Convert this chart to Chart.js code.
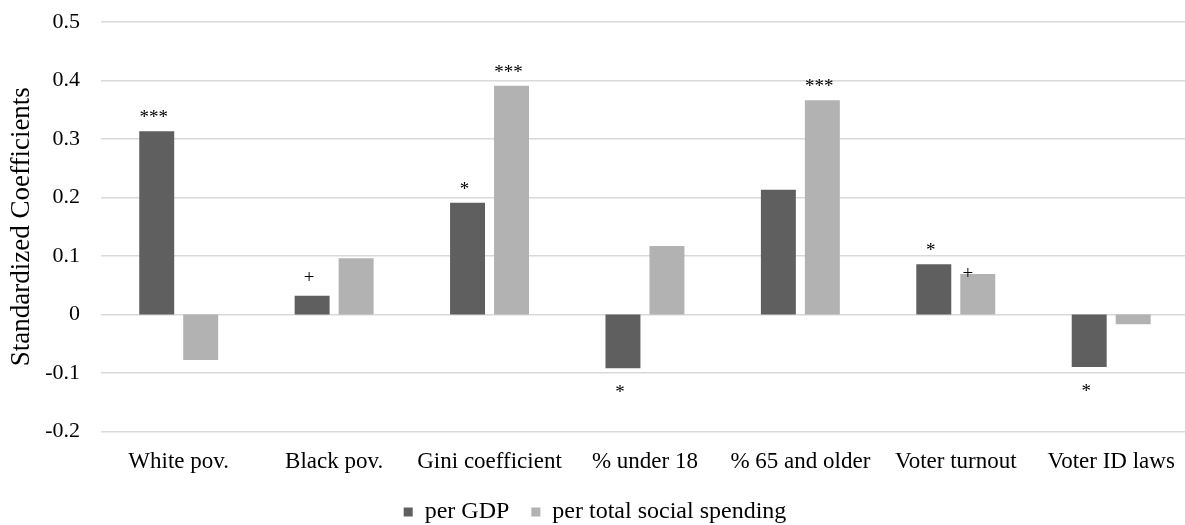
<!DOCTYPE html>
<html>
<head>
<meta charset="utf-8">
<script src="https://cdn.jsdelivr.net/npm/chart.js@4.4.1/dist/chart.umd.min.js"></script>
<style>
  html, body { margin: 0; padding: 0; background: #ffffff; overflow: hidden; }
  #wrap { position: relative; width: 1192px; height: 525px; }
</style>
</head>
<body>
<div id="wrap"><canvas id="c"></canvas></div>
<script>
// ---- data ----
const categories = ['White pov.', 'Black pov.', 'Gini coefficient', '% under 18', '% 65 and older', 'Voter turnout', 'Voter ID laws'];
const seriesNames = ['per GDP', 'per total social spending'];
const perGDP = [0.313, 0.032, 0.191, -0.092, 0.213, 0.086, -0.090];
const perSocial = [-0.078, 0.096, 0.391, 0.117, 0.366, 0.069, -0.017];
const sigGDP = ['***', '+', '*', '*', '', '*', '*'];
const sigSocial = ['', '', '***', '', '***', '+', ''];
const yTickLabels = ['-0.2', '-0.1', '0', '0.1', '0.2', '0.3', '0.4', '0.5'];

const FONT = "'Liberation Serif', 'Times New Roman', serif";
const TEXT = '#000000';

// significance markers drawn from the bar elements
const sigPlugin = {
  id: 'sigMarks',
  afterDatasetsDraw(chart) {
    const ctx = chart.ctx;
    const sets = [sigGDP, sigSocial];
    const size = 19;
    ctx.save();
    ctx.font = size + 'px ' + FONT;
    ctx.fillStyle = TEXT;
    ctx.textAlign = 'center';
    ctx.textBaseline = 'alphabetic';
    sets.forEach((marks, di) => {
      const meta = chart.getDatasetMeta(di);
      meta.data.forEach((el, i) => {
        const m = marks[i];
        if (!m) return;
        const v = chart.data.datasets[di].data[i];
        const glyphLift = (m.indexOf('*') >= 0 ? 0.47 : 0.25) * size;
        let cx = el.x - 3;
        let cy;
        if (v >= 0) cy = el.y - 17; else cy = el.y + 21;
        // the "+" beside the light turnout bar sits on its top-left corner
        if (di === 1 && i === 5) { cx = el.x - 10; cy = el.y; }
        ctx.fillText(m, cx, cy + glyphLift);
      });
    });
    ctx.restore();
  }
};

new Chart(document.getElementById('c'), {
  type: 'bar',
  data: {
    labels: categories,
    datasets: [
      { label: seriesNames[0], data: perGDP, backgroundColor: '#5f5f5f', borderWidth: 0,
        categoryPercentage: 0.566, barPercentage: 0.795 },
      { label: seriesNames[1], data: perSocial, backgroundColor: '#b2b2b2', borderWidth: 0,
        categoryPercentage: 0.566, barPercentage: 0.795 }
    ]
  },
  options: {
    responsive: true,
    maintainAspectRatio: false,
    animation: false,
    events: [],
    layout: { padding: { top: 0, right: 2, left: 0, bottom: -9 } },
    plugins: {
      legend: {
        position: 'bottom',
        labels: {
          font: { family: FONT, size: 24 },
          color: TEXT,
          boxWidth: 9,
          boxHeight: 9,
          padding: 22
        }
      },
      tooltip: { enabled: false }
    },
    scales: {
      x: {
        afterFit(scale) { scale.height -= 15; },
        grid: { display: false, drawTicks: false },
        border: { display: false },
        ticks: { font: { family: FONT, size: 23 }, color: TEXT, padding: 17, maxRotation: 0, autoSkip: false }
      },
      y: {
        min: -0.2, max: 0.5,
        afterFit(scale) { scale.width = 101; scale.paddingTop = 22; scale.paddingBottom = 13; },
        grid: { color: '#d9d9d9', lineWidth: 1.5, drawTicks: false },
        border: { display: false },
        ticks: {
          stepSize: 0.1,
          font: { family: FONT, size: 22 },
          color: TEXT,
          padding: 21,
          callback: (value, index) => yTickLabels[index]
        },
        title: {
          display: true,
          text: 'Standardized Coefficients',
          font: { family: FONT, size: 27 },
          color: TEXT,
          padding: { top: 6, bottom: 0 }
        }
      }
    }
  },
  plugins: [sigPlugin]
});
</script>
</body>
</html>
